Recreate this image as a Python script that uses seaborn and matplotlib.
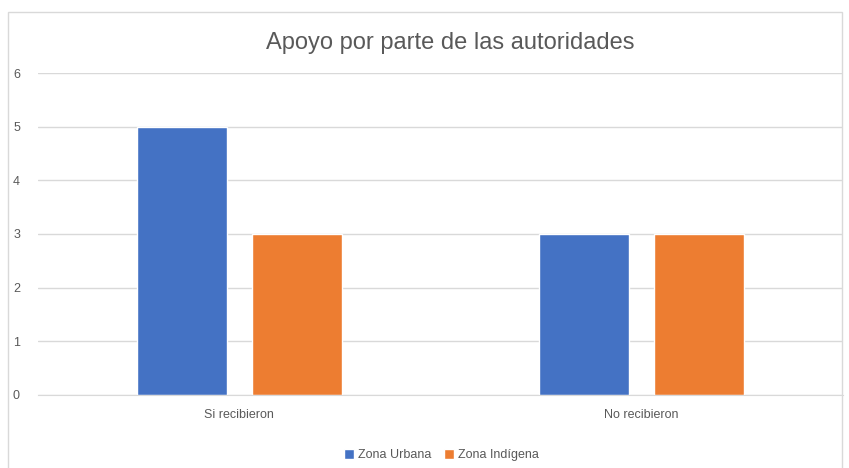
import pandas as pd
import matplotlib.pyplot as plt
import seaborn as sns
from matplotlib.patches import Rectangle

# data
categorias = ["Si recibieron", "No recibieron"]
zona_urbana = [5, 3]
zona_indigena = [3, 3]
series = ["Zona Urbana", "Zona Indígena"]

df = pd.DataFrame({
    "Categoria": categorias * 2,
    "Valor": zona_urbana + zona_indigena,
    "Serie": [series[0]] * 2 + [series[1]] * 2,
})

sns.set_style("white")
plt.rcParams['font.family'] = ['Liberation Sans', 'DejaVu Sans']

fig = plt.figure(figsize=(8.49, 4.68), dpi=100)
ax = fig.add_axes([0.0448, 0.156, 0.948, 0.688])

sns.barplot(data=df, x="Categoria", y="Valor", hue="Serie", order=categorias,
            hue_order=series, palette=["#4472C4", "#ED7D31"],
            width=0.571, gap=0.216, saturation=1, ax=ax)

ax.set_ylim(0, 6)
ax.set_yticks(range(0, 7))
ax.grid(axis="y", color="#d9d9d9", linewidth=1)
ax.set_axisbelow(True)
for s in ["top", "right", "left"]:
    ax.spines[s].set_visible(False)
ax.spines["bottom"].set_color("#d9d9d9")
ax.tick_params(length=0, labelsize=9, colors="#595959")
ax.tick_params(axis="y", pad=13)
ax.tick_params(axis="x", pad=10)
ax.set_xlabel("")
ax.set_ylabel("")

fig.text(0.53, 0.908, "Apoyo por parte de las autoridades", ha="center", va="center",
         fontsize=17, color="#595959")

handles, labels = ax.get_legend_handles_labels()
ax.legend(handles, labels, loc="center", bbox_to_anchor=(0.52, 0.027),
          bbox_transform=fig.transFigure, ncol=2, frameon=False, fontsize=9,
          labelcolor="#595959", handlelength=0.8, handleheight=0.8,
          handletextpad=0.3, columnspacing=1.0)

# chart frame
fig.patches.append(Rectangle((8 / 849, -0.05), 834 / 849, 1.05 - 12 / 468,
                             transform=fig.transFigure, fill=False,
                             edgecolor="#d9d9d9", linewidth=1))

plt.savefig("out.png", dpi=100)
